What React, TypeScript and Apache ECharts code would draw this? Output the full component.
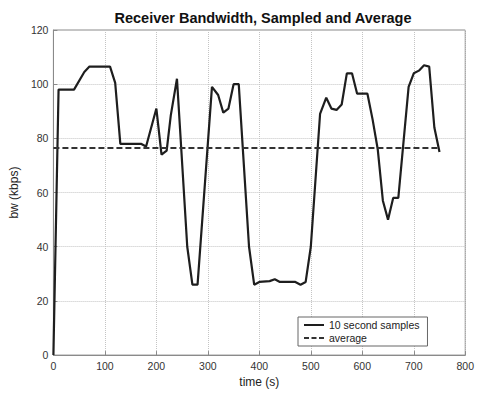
import React, { useEffect, useRef } from "react";
import * as echarts from "echarts";

const times = [0, 10, 40, 60, 70, 110, 120, 130, 170, 180, 200, 210, 220, 228, 240, 260, 270, 280, 308, 320, 330, 340, 350, 360, 380, 390, 400, 420, 430, 440, 470, 480, 490, 500, 518, 530, 540, 550, 560, 570, 580, 590, 610, 620, 630, 640, 650, 660, 670, 690, 700, 710, 720, 730, 740, 750];
const bandwidth = [0, 98, 98, 104.5, 106.5, 106.5, 100.5, 78, 78, 77, 91, 74, 75.5, 88.5, 102, 40, 26, 26, 99, 96, 89.5, 91, 100, 100, 40, 26, 27, 27.3, 28, 27, 27, 26, 27, 40, 89, 95, 91, 90.5, 92.5, 104, 104, 96.5, 96.5, 87, 76, 57, 50, 58, 58, 99, 104, 105, 107, 106.5, 84, 75];
const averageTimes = [0, 750];
const averageValue = 76.4;
const xTicks = [0, 100, 200, 300, 400, 500, 600, 700, 800];
const yTicks = [0, 20, 40, 60, 80, 100, 120];

export default function App() {
  const ref = useRef<HTMLDivElement>(null);
  useEffect(() => {
    if (!ref.current) return;
    const chart = echarts.init(ref.current, null, { renderer: "svg" });
    const font = "Liberation Sans";
    chart.setOption({
      animation: false,
      backgroundColor: "#ffffff",
      title: {
        text: "Receiver Bandwidth, Sampled and Average",
        left: 258,
        textAlign: "center",
        top: 5,
        textStyle: { fontFamily: font, fontSize: 14.5, fontWeight: "bold", color: "#111" },
      },
      grid: {
        left: 49,
        right: 9,
        top: 30,
        bottom: 34,
        show: true,
        borderColor: "#8a8a8a",
        borderWidth: 1,
        backgroundColor: "#fff",
      },
      legend: {
        left: 298,
        top: 317,
        orient: "vertical",
        itemWidth: 20,
        itemHeight: 2,
        itemGap: 1,
        padding: [2, 8, 2, 6],
        borderColor: "#666",
        borderWidth: 1,
        borderRadius: 0,
        backgroundColor: "#fff",
        textStyle: { fontFamily: font, fontSize: 10.5, color: "#222", lineHeight: 12 },
        data: [
          { name: "10 second samples", icon: "rect", itemStyle: { color: "#1e1e1e" } },
          { name: "average", icon: "path://M0,0h5v2h-5z M7.5,0h5v2h-5z M15,0h5v2h-5z", itemStyle: { color: "#333" } },
        ],
      },
      xAxis: {
        type: "value",
        min: xTicks[0],
        max: xTicks[xTicks.length - 1],
        interval: 100,
        name: "time (s)",
        nameLocation: "middle",
        nameGap: 19,
        nameTextStyle: { fontFamily: font, fontSize: 12, color: "#222" },
        axisLine: { show: true, lineStyle: { color: "#8a8a8a" } },
        axisTick: { show: true, inside: true, length: 4, lineStyle: { color: "#8a8a8a" } },
        axisLabel: { fontFamily: font, fontSize: 10.5, color: "#333", margin: 5 },
        splitLine: { show: true, lineStyle: { type: "dotted", color: "#c4c4c4", width: 1 } },
      },
      yAxis: {
        type: "value",
        min: yTicks[0],
        max: yTicks[yTicks.length - 1],
        interval: 20,
        name: "bw (kbps)",
        nameLocation: "middle",
        nameGap: 22,
        nameRotate: 90,
        nameTextStyle: { fontFamily: font, fontSize: 12, color: "#222" },
        axisLine: { show: true, lineStyle: { color: "#8a8a8a" } },
        axisTick: { show: true, inside: true, length: 4, lineStyle: { color: "#8a8a8a" } },
        axisLabel: { fontFamily: font, fontSize: 10.5, color: "#333", margin: 5 },
        splitLine: { show: true, lineStyle: { type: "dotted", color: "#c4c4c4", width: 1 } },
      },
      series: [
        {
          name: "10 second samples",
          type: "line",
          data: times.map((t, i) => [t, bandwidth[i]]),
          showSymbol: false,
          symbol: "none",
          lineStyle: { color: "#1e1e1e", width: 2.2 },
          itemStyle: { color: "#1e1e1e" },
        },
        {
          name: "average",
          type: "line",
          data: averageTimes.map((t) => [t, averageValue]),
          showSymbol: false,
          symbol: "none",
          lineStyle: { color: "#333", width: 2, type: [6, 3] },
          itemStyle: { color: "#333" },
        },
      ],
    });
    return () => chart.dispose();
  }, []);
  return <div ref={ref} style={{ width: 477, height: 393, position: "absolute", left: 0, top: 0 }} />;
}
